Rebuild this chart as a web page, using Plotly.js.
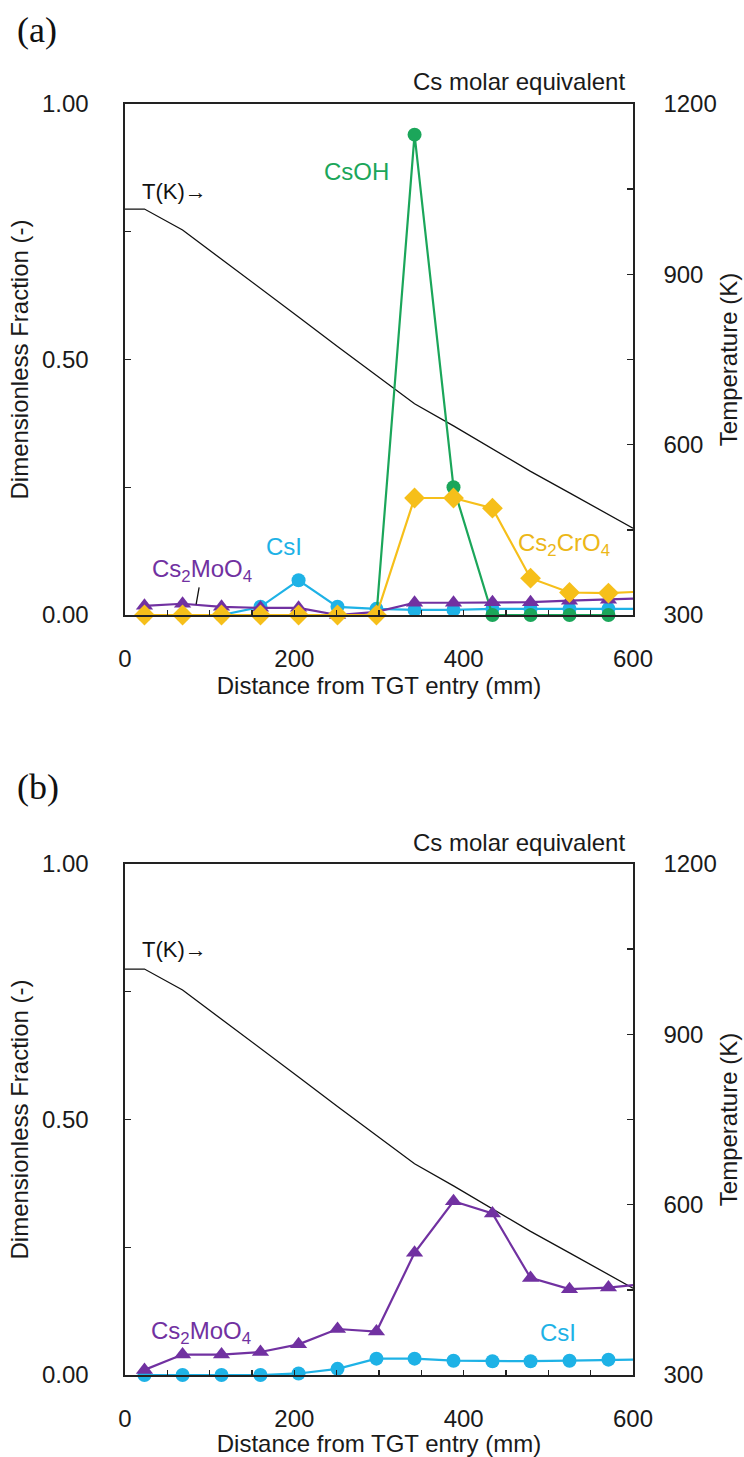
<!DOCTYPE html>
<html>
<head>
<meta charset="utf-8">
<script src="https://cdn.plot.ly/plotly-3.0.1.min.js"></script>
<style>
  html, body { margin: 0; padding: 0; background: #ffffff; }
  #chart { width: 744px; height: 1457px; }
</style>
</head>
<body>
<div id="chart"></div>
<script>
// Sampling positions along the thermal gradient tube (mm)
const distance = [23, 68, 114, 160, 205, 251, 297, 342, 388, 434, 479, 525, 571];
// Series that run on to the right-hand edge of the plot carry one more value, read at 600 mm
const edgeDistance = 600;

// Temperature profile (K) along the tube
const tempDistance = [0, 23, 68, 114, 160, 205, 251, 297, 342, 388, 434, 479, 525, 571, 600];
const temperature  = [1015, 1015, 978, 927, 875, 825, 773, 722, 672, 633, 592, 553, 515, 477, 453];

// (a) Cs molar equivalent fractions
const aCsOH     = [0, 0, 0, 0, 0, 0, 0, 0.94, 0.25, 0, 0, 0, 0];
const aCs2CrO4  = [0, 0, 0, 0, 0, 0, 0, 0.229, 0.229, 0.209, 0.072, 0.044, 0.043, 0.045];
const aCsI      = [0, 0, 0, 0.016, 0.068, 0.016, 0.012, 0.010, 0.010, 0.012, 0.012, 0.012, 0.012, 0.012];
const aCs2MoO4  = [0.018, 0.022, 0.016, 0.014, 0.014, 0, 0.006, 0.024, 0.024, 0.025, 0.025, 0.028, 0.030, 0.032];

// (b) Cs molar equivalent fractions
const bCs2MoO4  = [0.01, 0.04, 0.04, 0.045, 0.06, 0.09, 0.085, 0.239, 0.34, 0.316, 0.19, 0.168, 0.171, 0.176];
const bCsI      = [0, 0, 0, 0, 0.003, 0.012, 0.032, 0.032, 0.028, 0.027, 0.027, 0.028, 0.030, 0.030];

// Axis ticks
const distTicks = [0, 200, 400, 600];
const fracTicks = [0, 0.5, 1];
const tempTicks = [300, 600, 900, 1200];

const COL = {
  csoh: '#1ba65a',
  cr: '#f6bf1a',
  crText: '#ecb718',
  csi: '#1eb2e6',
  mo: '#7131a1',
  temp: '#111111'
};
const FONT = 'Liberation Sans, Arial, Helvetica, sans-serif';

function xsFor(vals) {
  return vals.length > distance.length ? distance.concat([edgeDistance]) : distance.slice();
}
function sizesFor(vals, s) {
  return vals.map((_, i) => (i < distance.length ? s : 0));
}
function series(name, vals, color, symbol, size, xa, ya) {
  return {
    type: 'scatter', mode: 'lines+markers', name: name,
    x: xsFor(vals), y: vals, xaxis: xa, yaxis: ya,
    line: { color: color, width: 2.2 },
    marker: { color: color, symbol: symbol, size: sizesFor(vals, size), opacity: 1, line: { width: 0 } },
    cliponaxis: false, showlegend: false, hoverinfo: 'x+y+name'
  };
}
function tempTrace(xa, ya) {
  return {
    type: 'scatter', mode: 'lines', name: 'T(K)',
    x: tempDistance, y: temperature, xaxis: xa, yaxis: ya,
    line: { color: COL.temp, width: 1.3 }, showlegend: false
  };
}

const data = [
  tempTrace('x', 'y'),
  series('CsI', aCsI, COL.csi, 'circle', 14, 'x', 'y2'),
  series('CsOH', aCsOH, COL.csoh, 'circle', 14, 'x', 'y2'),
  series('Cs2MoO4', aCs2MoO4, COL.mo, 'triangle-up', 15, 'x', 'y2'),
  series('Cs2CrO4', aCs2CrO4, COL.cr, 'diamond', 16, 'x', 'y2'),

  tempTrace('x2', 'y3'),
  series('CsI', bCsI, COL.csi, 'circle', 14, 'x2', 'y4'),
  series('Cs2MoO4', bCs2MoO4, COL.mo, 'triangle-up', 15, 'x2', 'y4')
];

const W = 744, H = 1457;
const plotLeft = 125, plotRight = 633;
const aTop = 104, aBottom = 615, bTop = 864, bBottom = 1375;
const xDom = [plotLeft / W, plotRight / W];
const aDom = [1 - aBottom / H, 1 - aTop / H];
const bDom = [1 - bBottom / H, 1 - bTop / H];

const tickFont = { family: FONT, size: 24, color: '#1a1a1a' };
const titleFont = { family: FONT, size: 24, color: '#1a1a1a' };

function distAxis(anchor) {
  return {
    domain: xDom, anchor: anchor, range: [0, 600],
    showline: true, linecolor: '#222', linewidth: 1.6, mirror: true,
    showgrid: false, zeroline: false,
    tickvals: distTicks, ticks: 'inside', ticklen: 5, tickwidth: 1.4, tickcolor: '#222',
    minor: { dtick: 50, ticks: 'inside', ticklen: 5, tickwidth: 1.4, tickcolor: '#222' },
    tickfont: tickFont, ticklabelstandoff: 22,
    title: { text: 'Distance from TGT entry (mm)', font: titleFont, standoff: 4 }
  };
}
function fracAxis(anchorX, overlay, domain) {
  return {
    domain: domain, anchor: anchorX, overlaying: overlay, side: 'left', range: [0, 1],
    showline: true, linecolor: '#222', linewidth: 1.6,
    showgrid: false, zeroline: false,
    tickvals: fracTicks, tickformat: '.2f', ticks: 'inside', ticklen: 6, tickwidth: 1.4, tickcolor: '#222',
    minor: { tickvals: [0.25, 0.75], ticks: 'inside', ticklen: 6, tickwidth: 1.4, tickcolor: '#222' },
    tickfont: tickFont, ticklabelstandoff: 30,
    title: { text: 'Dimensionless Fraction (-)', font: titleFont, standoff: 6 }
  };
}
function tempAxis(anchorX, domain) {
  return {
    domain: domain, anchor: anchorX, side: 'right', range: [300, 1200],
    showline: true, linecolor: '#222', linewidth: 1.6,
    showgrid: false, zeroline: false,
    tickvals: tempTicks, ticks: 'inside', ticklen: 6, tickwidth: 1.4, tickcolor: '#222',
    minor: { tickvals: [450, 750, 1050], ticks: 'inside', ticklen: 6, tickwidth: 1.4, tickcolor: '#222' },
    tickfont: tickFont, ticklabelstandoff: 24,
    title: { text: 'Temperature (K)', font: titleFont, standoff: 4 }
  };
}

function label(text, x, y, color, xa, ya, size) {
  return {
    text: text, x: x, y: y, xref: xa, yref: ya, showarrow: false,
    font: { family: FONT, size: size || 24, color: color }, xanchor: 'center', yanchor: 'middle'
  };
}
function paperText(text, px, py, font, xanchor) {
  return {
    text: text, x: px / W, y: 1 - py / H, xref: 'paper', yref: 'paper', showarrow: false,
    xanchor: xanchor || 'center', yanchor: 'middle', font: font
  };
}

const letterFont = { family: 'Liberation Serif, Times New Roman, serif', size: 36, color: '#111' };

const annotations = [
  // panel letters
  paperText('(a)', 37, 30, letterFont),
  paperText('(b)', 38, 787, letterFont),
  // header above each plot
  paperText('Cs molar equivalent', 627, 82, titleFont, 'right'),
  paperText('Cs molar equivalent', 627, 842, titleFont, 'right'),

  // (a) series labels
  label('T(K)\u2192', 59, 0.828, '#111', 'x', 'y2', 22),
  label('CsOH', 273, 0.867, COL.csoh, 'x', 'y2'),
  label('CsI', 188, 0.135, COL.csi, 'x', 'y2'),
  label('Cs<sub>2</sub>CrO<sub>4</sub>', 518, 0.137, COL.crText, 'x', 'y2'),
  {
    text: 'Cs<sub>2</sub>MoO<sub>4</sub>', x: 84, y: 0.021, xref: 'x', yref: 'y2',
    ax: 6, ay: -34, showarrow: true, arrowhead: 0, arrowwidth: 1.3, arrowcolor: '#111',
    standoff: 0, startstandoff: 0,
    font: { family: FONT, size: 24, color: COL.mo }
  },

  // (b) series labels
  label('T(K)\u2192', 59, 0.832, '#111', 'x2', 'y4', 22),
  label('Cs<sub>2</sub>MoO<sub>4</sub>', 90, 0.084, COL.mo, 'x2', 'y4'),
  label('CsI', 511, 0.084, COL.csi, 'x2', 'y4')
];

const layout = {
  width: W, height: H,
  margin: { l: 0, r: 0, t: 0, b: 0 },
  paper_bgcolor: '#ffffff', plot_bgcolor: 'rgba(0,0,0,0)',
  font: { family: FONT, color: '#1a1a1a' },
  showlegend: false,
  xaxis: distAxis('y'),
  yaxis: tempAxis('x', aDom),
  yaxis2: fracAxis('x', 'y', aDom),
  xaxis2: distAxis('y3'),
  yaxis3: tempAxis('x2', bDom),
  yaxis4: fracAxis('x2', 'y3', bDom),
  annotations: annotations
};

Plotly.newPlot('chart', data, layout, { displayModeBar: false, staticPlot: true });
</script>
</body>
</html>
